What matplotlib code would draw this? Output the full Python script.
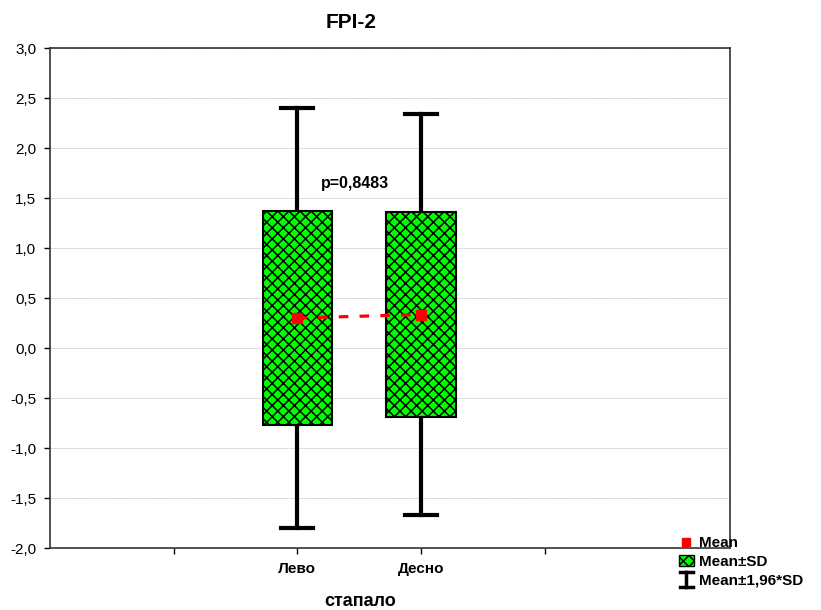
import matplotlib
matplotlib.use("Agg")
import matplotlib.pyplot as plt
from matplotlib.patches import Rectangle
from matplotlib.lines import Line2D
from matplotlib.legend_handler import HandlerBase

plt.rcParams['font.family'] = ['Liberation Sans', 'DejaVu Sans']
plt.rcParams['hatch.linewidth'] = 1.1

##### data #####
groups = ["Лево", "Десно"]
positions = [2, 3]
means = [0.30, 0.335]
sds = [1.07, 1.025]
p_text = "p=0,8483"

box_w = 0.56
cap_w = 0.26

fig = plt.figure(figsize=(8.21, 6.10), dpi=100)
ax = fig.add_axes([0.0609, 0.1016, 0.8283, 0.8197])

for pos, m, sd in zip(positions, means, sds):
    lo = m - 1.96 * sd
    hi = m + 1.96 * sd
    # whiskers
    ax.plot([pos, pos], [lo, m - sd], color="black", lw=3, zorder=2)
    ax.plot([pos, pos], [m + sd, hi], color="black", lw=3, zorder=2)
    ax.plot([pos - cap_w / 2, pos + cap_w / 2], [lo, lo], color="black", lw=3, zorder=2)
    ax.plot([pos - cap_w / 2, pos + cap_w / 2], [hi, hi], color="black", lw=3, zorder=2)
    # box
    ax.add_patch(Rectangle((pos - box_w / 2, m - sd), box_w, 2 * sd,
                           facecolor="#00ff00", edgecolor="black", hatch="xxx",
                           lw=1.5, zorder=3))

ax.plot(positions, means, color="red", ls=(0, (3, 3.5)), lw=2.3, marker="s",
        ms=7, zorder=4)

ax.text(2.47, 1.65, p_text, ha="center", va="center", fontsize=11.5, fontweight="bold")

ax.set_xlim(0, 5.5)
ax.set_ylim(-2.0, 3.0)
ax.set_xticks([1, 2, 3, 4])
ax.set_xticklabels(["", groups[0], groups[1], ""], fontsize=11, fontweight="bold")
yt = [-2.0 + 0.5 * i for i in range(11)]
ax.set_yticks(yt)
ax.set_yticklabels([f"{v:.1f}".replace(".", ",") for v in yt], fontsize=11)
ax.tick_params(direction="out", length=4, width=1, pad=6)
ax.yaxis.grid(True, color="#b0b0b0", lw=0.6, ls=(0, (1, 1)))
ax.set_axisbelow(True)
for s in ax.spines.values():
    s.set_linewidth(1.2)
    s.set_color("#333333")

fig.text(360 / 821, 1 - 601 / 610, "стапало", ha="center", va="center",
         fontsize=13, fontweight="bold")
fig.text(351 / 821, 1 - 22 / 610, "FPI-2", ha="center", va="center",
         fontsize=15, fontweight="bold")


class IBeam(HandlerBase):
    def create_artists(self, legend, orig, xd, yd, w, h, fontsize, trans):
        cx = xd + w / 2
        l1 = Line2D([cx, cx], [yd - 2, yd + h + 1], color="black", lw=2.5, transform=trans)
        l2 = Line2D([cx - 5, cx + 5], [yd - 2, yd - 2], color="black", lw=2.5, transform=trans)
        l3 = Line2D([cx - 5, cx + 5], [yd + h + 1, yd + h + 1], color="black", lw=2.5, transform=trans)
        return [l1, l2, l3]


h_mean = Line2D([], [], color="red", marker="s", ls="none", ms=6)
h_box = Rectangle((0, 0), 1, 1, facecolor="#00ff00", edgecolor="black", hatch="xxx", lw=1)
h_err = Line2D([], [], color="black")
leg = fig.legend([h_mean, h_box, h_err], ["Mean", "Mean±SD", "Mean±1,96*SD"],
                 handler_map={h_err: IBeam()}, loc="lower left",
                 bbox_to_anchor=(0.818, 0.025), frameon=False,
                 prop={"weight": "bold", "size": 11}, handlelength=0.95,
                 handletextpad=0.35, labelspacing=0.3, borderpad=0)

fig.savefig("out.png", dpi=100)
